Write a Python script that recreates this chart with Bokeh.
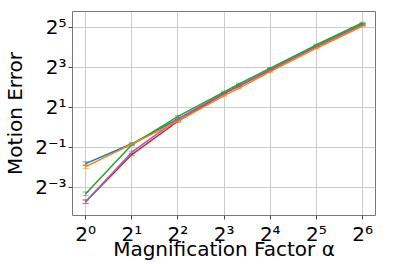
import numpy as np
from bokeh.plotting import figure
from bokeh.models import FixedTicker, Range1d, ColumnDataSource, Whisker
from bokeh.embed import file_html
from bokeh.resources import INLINE

alpha = [1, 2, 4, 8, 10, 16, 32, 64]
# log2 of motion error per series
blue = [-1.82, -0.83, 0.42, 1.70, 2.08, 2.88, 4.06, 5.15]
orange = [-1.97, -0.85, 0.30, 1.58, 1.95, 2.78, 3.95, 5.06]
green = [-3.33, -0.88, 0.54, 1.77, 2.17, 2.95, 4.12, 5.22]
red = [-3.73, -1.37, 0.30, 1.68, 2.05, 2.86, 4.04, 5.12]
purple = [-3.72, -1.25, 0.42, 1.70, 2.07, 2.88, 4.06, 5.14]
err = [0.09, 0.05, 0.04, 0.03, 0.03, 0.03, 0.03, 0.03]

series = [
    (blue, "#1f77b4"),
    (red, "#d62728"),
    (purple, "#9467bd"),
    (green, "#2ca02c"),
    (orange, "#ff7f0e"),
]

xticks = [1, 2, 4, 8, 16, 32, 64]
yticks = [2 ** -3, 2 ** -1, 2 ** 1, 2 ** 3, 2 ** 5]
sup = {"-": "\u207b", "0": "\u2070", "1": "\u00b9", "2": "\u00b2", "3": "\u00b3",
       "4": "\u2074", "5": "\u2075", "6": "\u2076"}


def lab(e):
    return "2" + "".join(sup[c] for c in str(e))


p = figure(width=415, height=264, x_axis_type="log", y_axis_type="log",
           output_backend="svg", toolbar_location=None,
           x_range=Range1d(2 ** -0.285, 2 ** 6.28),
           y_range=Range1d(2 ** -4.415, 2 ** 5.785),
           min_border_left=69, min_border_right=40, min_border_top=11,
           min_border_bottom=49)

for vals, col in series:
    y = [2 ** v for v in vals]
    lo = [2 ** (v - e) for v, e in zip(vals, err)]
    hi = [2 ** (v + e) for v, e in zip(vals, err)]
    src = ColumnDataSource(dict(x=alpha, y=y, lo=lo, hi=hi))
    p.line("x", "y", source=src, line_color=col, line_width=1.5)
    w = Whisker(base="x", lower="lo", upper="hi", source=src, dimension="height",
                line_color=col, line_width=1, line_alpha=0.6)
    w.upper_head.size = 6
    w.lower_head.size = 6
    w.upper_head.line_color = col
    w.lower_head.line_color = col
    w.upper_head.line_alpha = 0.6
    w.lower_head.line_alpha = 0.6
    p.add_layout(w)

p.xaxis.ticker = FixedTicker(ticks=xticks)
p.yaxis.ticker = FixedTicker(ticks=yticks)
p.xaxis.major_label_overrides = {t: lab(int(np.log2(t))) for t in xticks}
p.yaxis.major_label_overrides = {t: lab(int(round(np.log2(t)))) for t in yticks}

for ax in (p.xaxis, p.yaxis):
    ax.major_label_text_font = "DejaVu Sans"
    ax.major_label_text_font_size = "20px"
    ax.major_label_text_color = "black"
    ax.axis_label_text_font = "DejaVu Sans"
    ax.axis_label_text_font_size = "20px"
    ax.axis_label_text_font_style = "normal"
    ax.axis_label_text_color = "black"
    ax.axis_line_color = None
    ax.major_tick_line_color = "#444444"
    ax.major_tick_in = 0
    ax.major_tick_out = 4
    ax.minor_tick_line_color = None

p.xaxis.axis_label = "Magnification Factor \u03b1"
p.yaxis.axis_label = "Motion Error"
p.xaxis.major_label_standoff = 2
p.xaxis.axis_label_standoff = -12
p.yaxis.major_label_standoff = 2
p.yaxis.axis_label_standoff = 5

p.xgrid.grid_line_color = "#cccccc"
p.ygrid.grid_line_color = "#cccccc"
p.xgrid.ticker = FixedTicker(ticks=xticks)
p.ygrid.ticker = FixedTicker(ticks=yticks)

p.outline_line_color = "#777777"
p.outline_line_width = 1
p.background_fill_color = "white"
p.border_fill_color = "white"

open("out.html", "w").write(file_html(p, INLINE))
